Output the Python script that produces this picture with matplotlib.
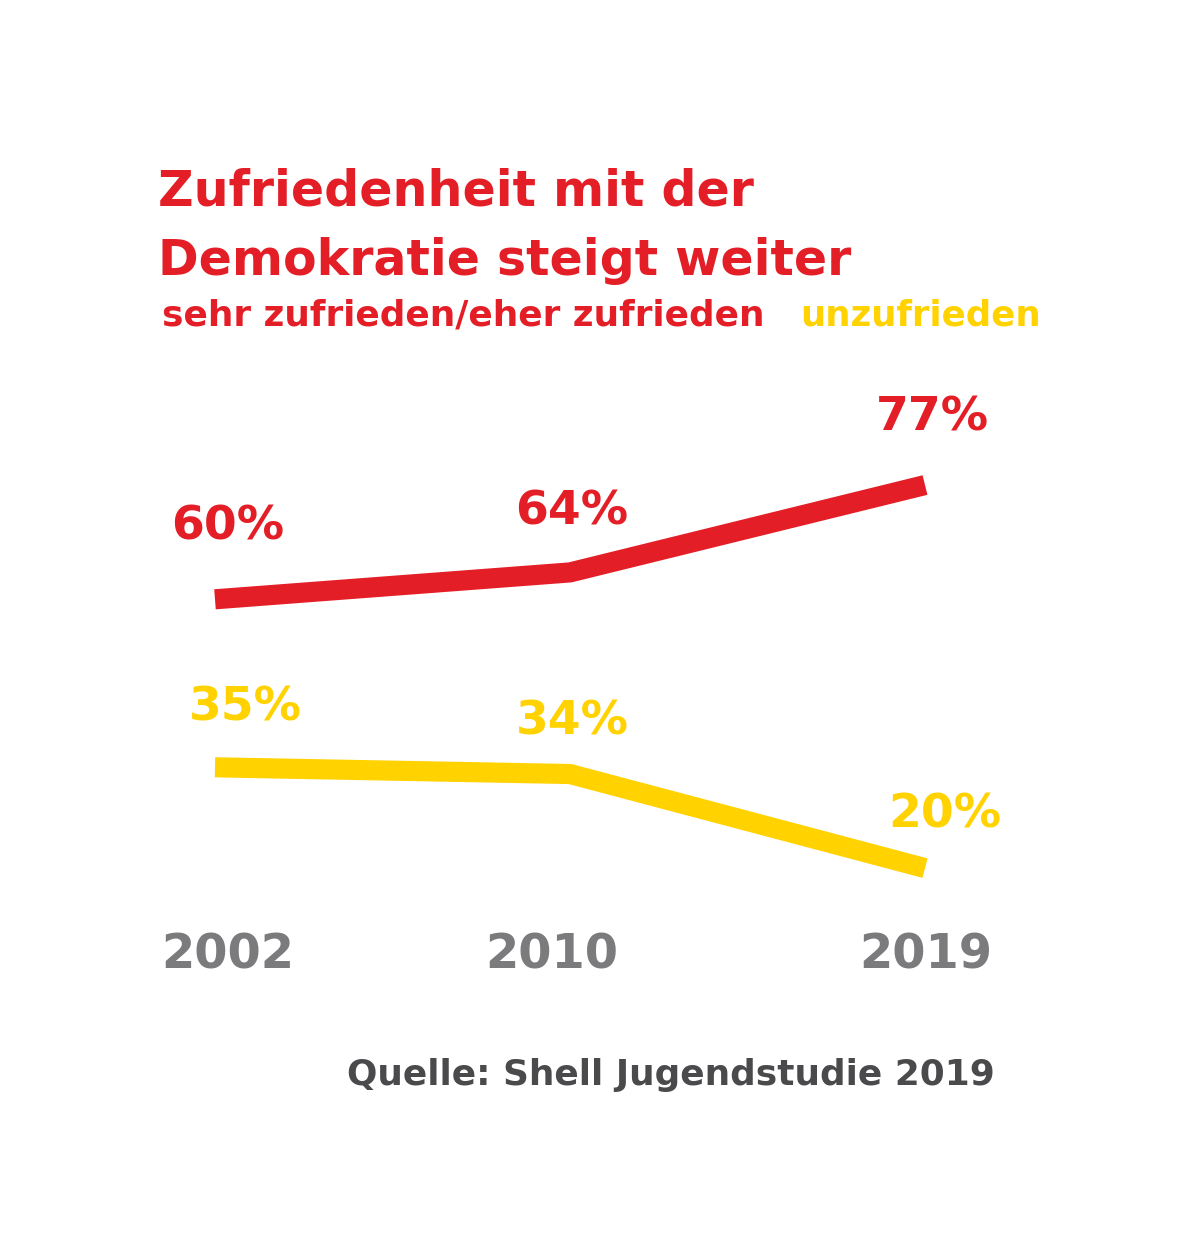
import matplotlib
matplotlib.use('Agg')
import matplotlib.pyplot as plt

RED = '#E41E26'
YELLOW = '#FFD200'
GREY_YEAR = '#7B7B7E'
GREY_SRC = '#4A4A4C'

# Data
years = ['2002', '2010', '2019']
zufrieden = [60, 64, 77]
unzufrieden = [35, 34, 20]

# label offsets in pixels (dx, dy) relative to data points
red_offsets = [(13, 72), (2, 60), (7, 67)]
yellow_offsets = [(30, 59), (2, 52), (20, 53)]
year_offsets = [13, -18, 1]

plt.rcParams['font.family'] = ['DejaVu Sans']

W, H = 1202, 1239
fig = plt.figure(figsize=(W / 100, H / 100), dpi=100)
fig.patch.set_facecolor('white')

ax = fig.add_axes([215 / W, 1 - 935.3 / H, 710 / W, 504 / H])
ax.set_xlim(0, 2)
ax.set_ylim(10, 85)
ax.axis('off')

x = list(range(len(years)))
ax.plot(x, zufrieden, color=RED, lw=14.5, solid_capstyle='butt', solid_joinstyle='miter', clip_on=False)
ax.plot(x, unzufrieden, color=YELLOW, lw=14.5, solid_capstyle='butt', solid_joinstyle='miter', clip_on=False)

for i, v in enumerate(zufrieden):
    ax.annotate(f'{v}%', (i, v), xytext=red_offsets[i], textcoords='offset pixels',
                ha='center', va='center', fontsize=34, fontweight='bold', color=RED)
for i, v in enumerate(unzufrieden):
    ax.annotate(f'{v}%', (i, v), xytext=yellow_offsets[i], textcoords='offset pixels',
                ha='center', va='center', fontsize=34, fontweight='bold', color=YELLOW)

for i, yr in enumerate(years):
    ax.annotate(yr, (i, 0), xycoords=ax.get_xaxis_transform(), xytext=(year_offsets[i], -20),
                textcoords='offset pixels', ha='center', va='center',
                fontsize=34.5, fontweight='bold', color=GREY_YEAR)

# Title and legend texts
fig.text(158 / W, 1 - 205 / H, 'Zufriedenheit mit der', fontsize=35.3, fontweight='bold',
         color=RED, ha='left', va='baseline')
fig.text(158 / W, 1 - 275 / H, 'Demokratie steigt weiter', fontsize=35.3, fontweight='bold',
         color=RED, ha='left', va='baseline')
fig.text(162 / W, 1 - 325 / H, 'sehr zufrieden/eher zufrieden', fontsize=25.8, fontweight='bold',
         color=RED, ha='left', va='baseline')
fig.text(800 / W, 1 - 325 / H, 'unzufrieden', fontsize=25.6, fontweight='bold',
         color=YELLOW, ha='left', va='baseline')

fig.text(995 / W, 1 - 1085 / H, 'Quelle: Shell Jugendstudie 2019', fontsize=25.8, fontweight='bold',
         color=GREY_SRC, ha='right', va='baseline')

fig.savefig('out.png', dpi=100, facecolor='white')
